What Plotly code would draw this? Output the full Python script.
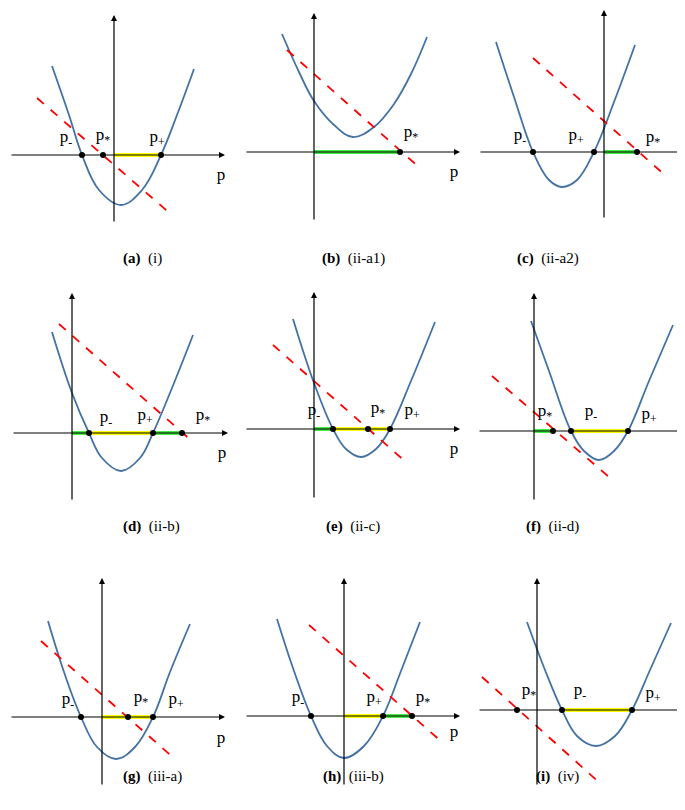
import plotly.graph_objects as go

W, H = 685, 810

# panel ids and captions
panel_letters = ["a", "b", "c", "d", "e", "f", "g", "h", "i"]
panel_cases = ["(i)", "(ii-a1)", "(ii-a2)", "(ii-b)", "(ii-c)", "(ii-d)", "(iii-a)", "(iii-b)", "(iv)"]

# parabola points (local coords: x right of vertical axis, y above horizontal axis)
curve_x = [
    [-62, -45, -32, -15, 7, 28, 47, 63, 80],
    [-32, -15, 0, 20, 39, 60, 80, 97, 113],
    [-108, -90, -71, -55, -42, -27, -10, 10, 31],
    [-20, 0, 17, 30, 49, 68, 81, 100, 121],
    [-21, 0, 19, 32, 47, 62, 76, 97, 121],
    [-3, 15, 37, 50, 65, 80, 94, 115, 139],
    [-54, -38, -21, -5, 14, 33, 51, 68, 88],
    [-67, -50, -33, -17, 0, 20, 39, 57, 76],
    [-10, 8, 25, 40, 59, 78, 95, 113, 134],
]
curve_y = [
    [89, 40, 0, -35, -50, -35, 0, 40, 86],
    [118, 80, 51, 27, 15, 25, 48, 78, 115],
    [110, 55, 0, -28, -35, -28, 0, 50, 107],
    [101, 40, 0, -25, -38, -25, 0, 45, 98],
    [110, 46, 0, -20, -28, -20, 0, 48, 107],
    [110, 60, 0, -20, -29, -20, 0, 50, 106],
    [96, 45, 0, -30, -42, -30, 0, 45, 93],
    [97, 45, 0, -30, -42, -30, 0, 45, 94],
    [88, 40, 0, -26, -36, -26, 0, 40, 87],
]

# red dashed line end points
line_x = [[-77, 59], [-27, 107], [-71, 63], [-13, 121], [-41, 93], [-42, 75], [-61, 74], [-35, 99], [-55, 65]]
line_y = [[57, -61], [102, -17], [94, -25], [109, -9], [84, -34], [55, -46], [76, -43], [91, -27], [33, -75]]

# marked points on the p axis
dots = [[-32, -11, 47], [86], [-71, -10, 33], [17, 81, 110], [19, 54, 76],
        [19, 37, 94], [-21, 26, 51], [-33, 39, 68], [-20, 25, 95]]

# coloured intervals on the p axis
yellow = [[(0, 47)], [], [], [(17, 81)], [(19, 76)], [(37, 94)], [(0, 51)], [(0, 39)], [(25, 95)]]
green = [[], [(0, 86)], [(0, 33)], [(0, 17), (81, 110)], [(0, 19)], [(0, 19)], [], [(39, 68)], []]

# point labels (text, x, y)
labels = [
    [("p<sub>-</sub>", -48, 17), ("p<sub>*</sub>", -11, 19), ("p<sub>+</sub>", 43, 17)],
    [("p<sub>*</sub>", 97, 19)],
    [("p<sub>-</sub>", -84, 16), ("p<sub>+</sub>", -28, 16), ("p<sub>*</sub>", 49, 14)],
    [("p<sub>-</sub>", 34, 15), ("p<sub>+</sub>", 73, 17), ("p<sub>*</sub>", 131, 17)],
    [("p<sub>-</sub>", 0, 18), ("p<sub>*</sub>", 64, 20), ("p<sub>+</sub>", 98, 18)],
    [("p<sub>*</sub>", 11, 19), ("p<sub>-</sub>", 57, 19), ("p<sub>+</sub>", 115, 16)],
    [("p<sub>-</sub>", -34, 17), ("p<sub>*</sub>", 39, 19), ("p<sub>+</sub>", 74, 17)],
    [("p<sub>-</sub>", -46, 18), ("p<sub>+</sub>", 30, 18), ("p<sub>*</sub>", 79, 18)],
    [("p<sub>*</sub>", -8, 19), ("p<sub>-</sub>", 43, 19), ("p<sub>+</sub>", 116, 16)],
]
p_label = [(107, -21), (140, -21), (78, -23), (150, -21), (140, -21), (148, -21), (119, -22), (110, -17), (145, -22)]

# drawn axis extents (local)
h_axis = [(-104, 111), (-69, 146), (-125, 89), (-60, 156), (-69, 146), (-56, 159), (-92, 123), (-99, 116), (-59, 156)]
v_axis = [(-68, 140), (-69, 139), (-67, 142), (-68, 140), (-70, 137), (-70, 138), (-69, 139), (-70, 138), (-76, 132)]

# layout: where each panel's origin sits on the page (px), caption positions
origins = [(106, 147), (306, 144), (596, 144), (64, 425), (306, 421), (526, 423), (94, 709), (336, 708), (529, 702)]
caption_x = [113, 345, 573]
caption_y = [240, 518, 779]

BLUE = "#4472a4"
SERIF = "Liberation Serif, DejaVu Serif, Times New Roman, serif"

fig = go.Figure()
layout = {}
annotations = []

for k in range(9):
    n = k + 1
    xa = "x" if n == 1 else f"x{n}"
    ya = "y" if n == 1 else f"y{n}"
    ox, oy = origins[k]
    xkey = "xaxis" if n == 1 else f"xaxis{n}"
    ykey = "yaxis" if n == 1 else f"yaxis{n}"
    layout[xkey] = dict(range=[-ox, W - ox], domain=[0, 1], visible=False, fixedrange=True,
                        anchor=ya, **({} if n == 1 else {"overlaying": "x"}))
    layout[ykey] = dict(range=[oy - H, oy], domain=[0, 1], visible=False, fixedrange=True,
                        anchor=xa, **({} if n == 1 else {"overlaying": "y"}))

    # axes with arrows
    x0, x1 = h_axis[k]
    y0, y1 = v_axis[k]
    for (tx, ty, sx, sy) in [(x1, 0, x0, 0), (0, y1, 0, y0)]:
        annotations.append(dict(x=tx, y=ty, ax=sx, ay=sy, xref=xa, yref=ya, axref=xa, ayref=ya,
                                text="", showarrow=True, arrowhead=2, arrowsize=1,
                                arrowwidth=1.2, arrowcolor="black"))

    for segs, col in [(green[k], "#45ec45"), (yellow[k], "#ffff00")]:
        for a, b in segs:
            fig.add_trace(go.Scatter(x=[a, b], y=[0, 0], mode="lines", xaxis=xa, yaxis=ya,
                                     line=dict(color=col, width=4), showlegend=False, hoverinfo="skip"))

    fig.add_trace(go.Scatter(x=curve_x[k], y=curve_y[k], mode="lines", xaxis=xa, yaxis=ya,
                             line=dict(color=BLUE, width=1.8, shape="spline", smoothing=1.1),
                             showlegend=False, hoverinfo="skip"))
    fig.add_trace(go.Scatter(x=line_x[k], y=line_y[k], mode="lines", xaxis=xa, yaxis=ya,
                             line=dict(color="#ff0000", width=1.8, dash="dash"),
                             showlegend=False, hoverinfo="skip"))
    fig.add_trace(go.Scatter(x=dots[k], y=[0] * len(dots[k]), mode="markers", xaxis=xa, yaxis=ya,
                             marker=dict(color="black", size=6), showlegend=False, hoverinfo="skip"))

    txt = [t for t, _, _ in labels[k]] + ["p"]
    tx = [x for _, x, _ in labels[k]] + [p_label[k][0]]
    ty = [y for _, _, y in labels[k]] + [p_label[k][1]]
    fig.add_trace(go.Scatter(x=tx, y=ty, mode="text", text=txt, xaxis=xa, yaxis=ya,
                             textfont=dict(family=SERIF, size=17, color="black"),
                             showlegend=False, hoverinfo="skip"))

    annotations.append(dict(x=caption_x[k % 3] / W, y=1 - caption_y[k // 3] / H, xref="paper", yref="paper",
                            text=f"<b>({panel_letters[k]})</b>  {panel_cases[k]}", showarrow=False,
                            font=dict(family=SERIF, size=15, color="black")))

fig.update_layout(width=W, height=H, margin=dict(l=0, r=0, t=0, b=0),
                  paper_bgcolor="white", plot_bgcolor="white",
                  annotations=annotations, **layout)

fig.write_html("out.html")
